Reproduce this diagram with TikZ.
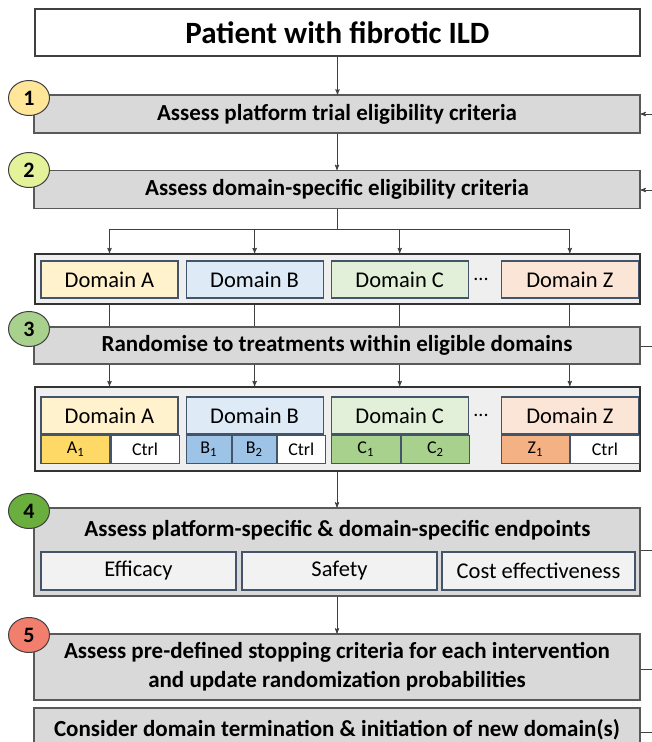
\documentclass[tikz,border=0pt]{standalone}
\usepackage{fontspec}
\setmainfont{Carlito}
\usetikzlibrary{arrows,positioning,shapes.geometric}

\definecolor{stepgray}{HTML}{D9D9D9}
\definecolor{contgray}{HTML}{EFEFEF}
\definecolor{slate}{HTML}{44546A}
\definecolor{yelA}{HTML}{FFF2CC}
\definecolor{yelB}{HTML}{FFD966}
\definecolor{bluA}{HTML}{DEEBF7}
\definecolor{bluB}{HTML}{9DC3E6}
\definecolor{grnA}{HTML}{E2F0D9}
\definecolor{grnB}{HTML}{A9D18E}
\definecolor{ornA}{HTML}{FBE5D6}
\definecolor{ornB}{HTML}{F4B183}
\definecolor{dot1}{HTML}{FFE699}
\definecolor{dot2}{HTML}{E4F29A}
\definecolor{dot3}{HTML}{A9D18E}
\definecolor{dot4}{HTML}{6AAE3E}
\definecolor{dot5}{HTML}{F27E6E}

\begin{document}
\begin{tikzpicture}[-,>=stealth',x=1pt,y=-1pt,line width=0.9pt,draw=black!75,
  titlebox/.style={draw=black!75, fill=white, line width=1.1pt, inner sep=0pt,
    font=\bfseries\fontsize{31}{36}\selectfont},
  stepbox/.style={draw=black!65, fill=stepgray, line width=1.1pt, inner sep=0pt,
    minimum width=606pt, align=center, font=\bfseries\fontsize{23}{29}\selectfont},
  contbox/.style={draw=black!80, fill=contgray, line width=1.8pt, inner sep=0pt,
    minimum width=605pt},
  dombox/.style={draw=slate, line width=1.1pt, inner sep=0pt, minimum width=137pt,
    minimum height=37pt, font=\fontsize{22.5}{26}\selectfont},
  armbox/.style={draw=slate, line width=1.1pt, inner sep=0pt, minimum height=28pt,
    anchor=north west, font=\fontsize{18}{20}\selectfont},
  endbox/.style={draw=slate, fill=black!5, line width=1.1pt, inner sep=0pt,
    minimum height=38pt, font=\fontsize{22.5}{26}\selectfont},
  numdot/.style={ellipse, draw=black!75, line width=1pt, minimum width=41pt,
    minimum height=35pt, inner sep=0pt, font=\bfseries\fontsize{22}{24}\selectfont}]

  \useasboundingbox (0,0) rectangle (652,742);
  \clip (0,0) rectangle (652,742);

  % steps
  \node (pat) [titlebox, minimum width=605pt, minimum height=47pt] at (337.5,32.5) {Patient with fibrotic ILD};
  \node (s1) [stepbox, minimum height=38pt] at (337,114) {Assess platform trial eligibility criteria};
  \node (s2) [stepbox, minimum height=38pt] at (337,189.5) {Assess domain-specific eligibility criteria};
  \node (dc1) [contbox, minimum height=50pt] at (337.5,279) {};
  \node (s3) [stepbox, minimum height=37pt] at (337,345.5) {Randomise to treatments within eligible domains};
  \node (dc2) [contbox, minimum height=84pt] at (337.5,429) {};
  \node (s4) [stepbox, minimum height=88pt] at (337,552) {};
  \node (s4t) [font=\bfseries\fontsize{23}{29}\selectfont] at (337.5,530) {Assess platform-specific \& domain-specific endpoints};
  \node (s5) [stepbox, minimum height=66pt] at (337,667) {Assess pre-defined stopping criteria for each intervention\\and update randomization probabilities};
  \node (s6) [stepbox, minimum height=44pt] at (337,730) {Consider domain termination \& initiation of new domain(s)};

  % domains before randomisation
  \node (dA) [dombox, fill=yelA] at (109.5,279.5) {Domain A};
  \node (dB) [dombox, fill=bluA, right=7pt of dA] {Domain B};
  \node (dC) [dombox, fill=grnA, right=7pt of dB] {Domain C};
  \node (dZ) [dombox, fill=ornA, right=32pt of dC] {Domain Z};
  \node (dd1) [font=\fontsize{20}{22}\selectfont] at (481,279) {...};

  % domains after randomisation
  \node (hA) [dombox, fill=yelA] at (109.5,415.5) {Domain A};
  \node (hB) [dombox, fill=bluA, right=7pt of hA] {Domain B};
  \node (hC) [dombox, fill=grnA, right=7pt of hB] {Domain C};
  \node (hZ) [dombox, fill=ornA, right=32pt of hC] {Domain Z};
  \node (dd2) [font=\fontsize{20}{22}\selectfont] at (481,415) {...};
  \node (a1) [armbox, fill=yelB, minimum width=69pt] at (hA.south west) {A\textsubscript{1}};
  \node (a0) [armbox, fill=white, minimum width=68pt] at (a1.north east) {Ctrl};
  \node (b1) [armbox, fill=bluB, minimum width=45pt] at (hB.south west) {B\textsubscript{1}};
  \node (b2) [armbox, fill=bluB, minimum width=44pt] at (b1.north east) {B\textsubscript{2}};
  \node (b0) [armbox, fill=white, minimum width=48pt] at (b2.north east) {Ctrl};
  \node (c1) [armbox, fill=grnB, minimum width=69pt] at (hC.south west) {C\textsubscript{1}};
  \node (c2) [armbox, fill=grnB, minimum width=68pt] at (c1.north east) {C\textsubscript{2}};
  \node (z1) [armbox, fill=ornB, minimum width=68pt] at (hZ.south west) {Z\textsubscript{1}};
  \node (z0) [armbox, fill=white, minimum width=69pt] at (z1.north east) {Ctrl};

  % endpoints
  \node (ef) [endbox, minimum width=195pt] at (138.5,571) {Efficacy};
  \node (sa) [endbox, minimum width=195pt] at (339.5,571) {Safety};
  \node (co) [endbox, minimum width=193pt] at (538.5,571) {Cost effectiveness};

  % step numbers
  \node (n1) [numdot, fill=dot1] at (29,98) {1};
  \node (n2) [numdot, fill=dot2] at (29,170) {2};
  \node (n3) [numdot, fill=dot3] at (29,329) {3};
  \node (n4) [numdot, fill=dot4] at (29,511) {4};
  \node (n5) [numdot, fill=dot5] at (29,635) {5};

  % connectors
  \coordinate (sp) at (337,229);
  \coordinate (r1) at (652,114);
  \coordinate (r2) at (652,190);
  \coordinate (r3) at (652,346);
  \coordinate (r4) at (652,550);
  \coordinate (r5) at (652,669);
  \coordinate (r6) at (652,732);
  \path[draw=black!75]
        (pat) edge[->]         (pat.south |- s1.north)
        (s1)  edge[->]         (s1.south |- s2.north)
        (s2)  edge             (sp)
        (dA |- sp) edge        (dZ |- sp)
        (dA |- sp) edge[->]    (dA |- dc1.north)
        (dB |- sp) edge[->]    (dB |- dc1.north)
        (dC |- sp) edge[->]    (dC |- dc1.north)
        (dZ |- sp) edge[->]    (dZ |- dc1.north)
        (dA |- dc1.south) edge (dA |- s3.north)
        (dB |- dc1.south) edge (dB |- s3.north)
        (dC |- dc1.south) edge (dC |- s3.north)
        (dZ |- dc1.south) edge (dZ |- s3.north)
        (dA |- s3.south) edge[->] (dA |- dc2.north)
        (dB |- s3.south) edge[->] (dB |- dc2.north)
        (dC |- s3.south) edge[->] (dC |- dc2.north)
        (dZ |- s3.south) edge[->] (dZ |- dc2.north)
        (s4.north |- dc2.south) edge[->] (s4.north)
        (s4) edge[->]          (s4.south |- s5.north)
        (r1) edge[->]          (s1)
        (r2) edge[->]          (s2.east |- r2)
        (s3.east |- r3) edge   (r3)
        (s4.east |- r4) edge   (r4)
        (s5.east |- r5) edge   (r5)
        (s6.east |- r6) edge   (r6);
\end{tikzpicture}
\end{document}
